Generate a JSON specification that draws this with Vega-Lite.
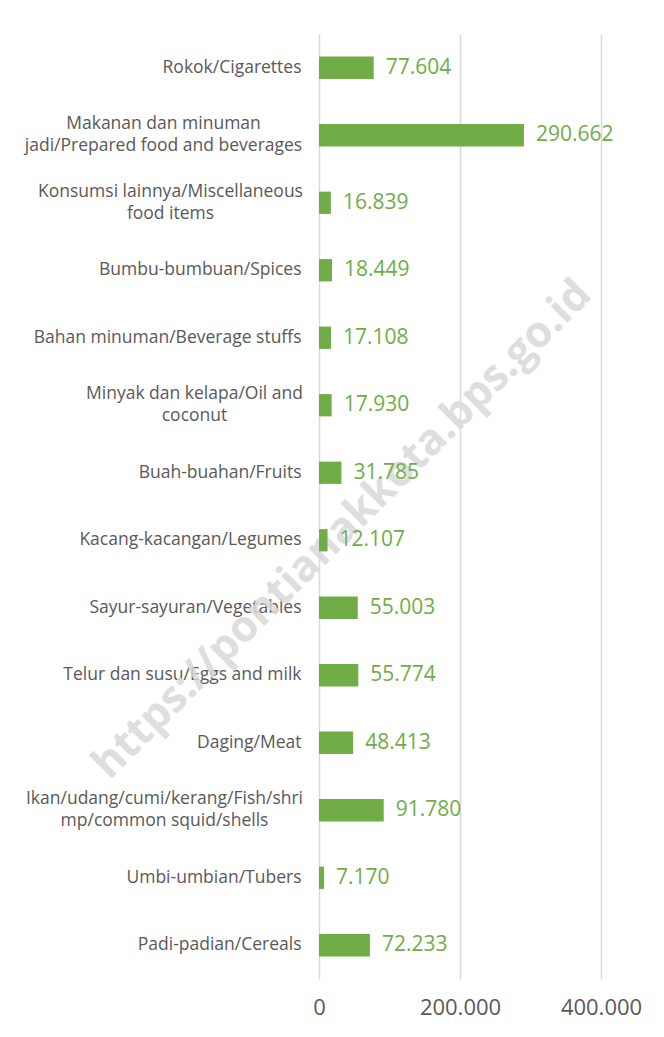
{
  "$schema": "https://vega.github.io/schema/vega-lite/v6.json",
  "autosize": {"type": "none"},
  "width": 282,
  "height": 945,
  "padding": {"left": 319, "top": 34, "right": 63, "bottom": 58},
  "background": "white",
  "config": {
    "view": {"stroke": null},
    "font": "Open Sans",
    "locale": {"number": {"decimal": ",", "thousands": ".", "grouping": [3], "currency": ["Rp", ""]}}
  },
  "data": {
    "values": [
      {"cat": "Rokok/Cigarettes", "v": 77604},
      {"cat": "Makanan dan minuman|jadi/Prepared food and beverages", "v": 290662},
      {"cat": "Konsumsi lainnya/Miscellaneous|food items", "v": 16839},
      {"cat": "Bumbu-bumbuan/Spices", "v": 18449},
      {"cat": "Bahan minuman/Beverage stuffs", "v": 17108},
      {"cat": "Minyak dan kelapa/Oil and|coconut", "v": 17930},
      {"cat": "Buah-buahan/Fruits", "v": 31785},
      {"cat": "Kacang-kacangan/Legumes", "v": 12107},
      {"cat": "Sayur-sayuran/Vegetables", "v": 55003},
      {"cat": "Telur dan susu/Eggs and milk", "v": 55774},
      {"cat": "Daging/Meat", "v": 48413},
      {"cat": "Ikan/udang/cumi/kerang/Fish/shri|mp/common squid/shells", "v": 91780},
      {"cat": "Umbi-umbian/Tubers", "v": 7170},
      {"cat": "Padi-padian/Cereals", "v": 72233}
    ]
  },
  "encoding": {
    "y": {
      "field": "cat", "type": "nominal", "sort": null,
      "scale": {"paddingInner": 0.67, "paddingOuter": 0.335},
      "axis": {
        "title": null, "domain": false, "ticks": false, "grid": false,
        "labelExpr": "split(datum.label, '|')",
        "labelFontSize": 17.5, "labelColor": "#595959",
        "labelLineHeight": 22, "labelLimit": 320,
        "labelOffset": {"condition": {"test": "indexof(datum.value, '|') >= 0", "value": -11}, "value": 0},
        "labelAlign": {"condition": {"test": "indexof(datum.value, '|') >= 0", "value": "center"}, "value": "right"},
        "labelPadding": {"condition": [
          {"test": "indexof(datum.value, 'Makanan') >= 0", "value": 156},
          {"test": "indexof(datum.value, 'Konsumsi') >= 0", "value": 149},
          {"test": "indexof(datum.value, 'Minyak') >= 0", "value": 125},
          {"test": "indexof(datum.value, 'Ikan') >= 0", "value": 155}
        ], "value": 18}
      }
    }
  },
  "layer": [
    {
      "mark": {"type": "text", "angle": -45, "fontSize": 43, "fontWeight": "bold", "font": "Open Sans", "color": "#d9d9d9", "opacity": 0.85, "align": "center", "baseline": "middle", "dy": -15},
      "encoding": {
        "x": {"datum": 48000, "type": "quantitative"},
        "text": {"condition": {"test": "datum.cat == 'Kacang-kacangan/Legumes'", "value": "https://pontianakkota.bps.go.id"}, "value": ""}
      }
    },
    {
      "mark": {"type": "bar", "color": "#70AD47"},
      "encoding": {
        "x": {
          "field": "v", "type": "quantitative",
          "scale": {"domain": [0, 400000], "nice": false},
          "axis": {
            "title": null, "values": [0, 200000, 400000], "format": ",.0f",
            "domain": false, "ticks": false, "grid": true, "gridColor": "#d9d9d9", "gridWidth": 1.5,
            "labelFontSize": 22, "labelColor": "#595959", "labelPadding": 18,
            "labelFlush": false, "labelOverlap": false
          }
        }
      }
    },
    {
      "mark": {"type": "text", "align": "left", "baseline": "middle", "dx": 12, "fontSize": 21, "color": "#70AD47"},
      "encoding": {
        "x": {"field": "v", "type": "quantitative"},
        "text": {"field": "v", "type": "quantitative", "format": ",.0f"}
      }
    }
  ]
}
